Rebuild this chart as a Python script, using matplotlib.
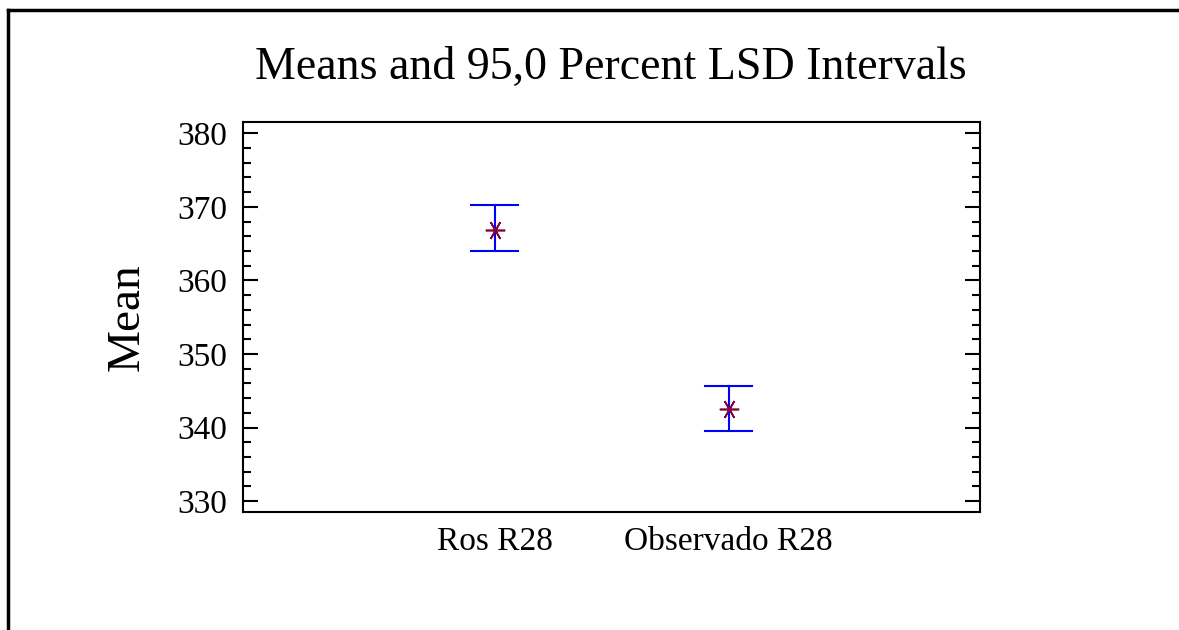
import matplotlib.pyplot as plt
from matplotlib.lines import Line2D
from matplotlib.ticker import MultipleLocator

# Group means and 95% LSD interval bounds
groups = ['Ros R28', 'Observado R28']
means = [366.9, 342.5]
lower = [364.0, 339.5]
upper = [370.2, 345.7]

plt.rcParams['font.family'] = ['Liberation Serif', 'DejaVu Serif']

fig = plt.figure(figsize=(11.79, 6.30), dpi=100)
ax = fig.add_axes([0.206, 0.187, 0.625, 0.619])

x = [1, 2]
for xi, m, lo, hi in zip(x, means, lower, upper):
    ax.plot([xi, xi], [lo, hi], color='#0000ff', lw=1.5)
    ax.plot([xi - 0.1, xi + 0.1], [lo, lo], color='#0000ff', lw=1.5)
    ax.plot([xi - 0.1, xi + 0.1], [hi, hi], color='#0000ff', lw=1.5)
ax.plot(x, means, linestyle='none', marker=(6, 2, 90), markersize=14,
        markeredgecolor='#800040', markeredgewidth=1.2)

ax.set_xlim(-0.077, 3.073)
ax.set_ylim(328.5, 381.5)
ax.set_xticks(x)
ax.set_xticklabels(groups, fontsize=24)
ax.tick_params(axis='x', length=0, pad=10)

ax.yaxis.set_major_locator(MultipleLocator(10))
ax.yaxis.set_minor_locator(MultipleLocator(2))
ax.tick_params(axis='y', which='both', direction='in', left=True, right=True,
               width=1.5, labelsize=24, pad=11)
ax.tick_params(axis='y', which='major', length=11)
ax.tick_params(axis='y', which='minor', length=5.5)
for s in ax.spines.values():
    s.set_linewidth(1.5)

ax.set_ylabel('Mean', fontsize=34, labelpad=21)
fig.text(0.518, 0.893, 'Means and 95,0 Percent LSD Intervals',
         ha='center', va='center', fontsize=33)

# partial outer frame along the top and left edges
fig.add_artist(Line2D([8 / 1179, 1], [1 - 10 / 630, 1 - 10 / 630],
                      color='black', lw=2.5, transform=fig.transFigure))
fig.add_artist(Line2D([8 / 1179, 8 / 1179], [0, 1 - 10 / 630],
                      color='black', lw=2.5, transform=fig.transFigure))

fig.savefig('out.png', dpi=100)
